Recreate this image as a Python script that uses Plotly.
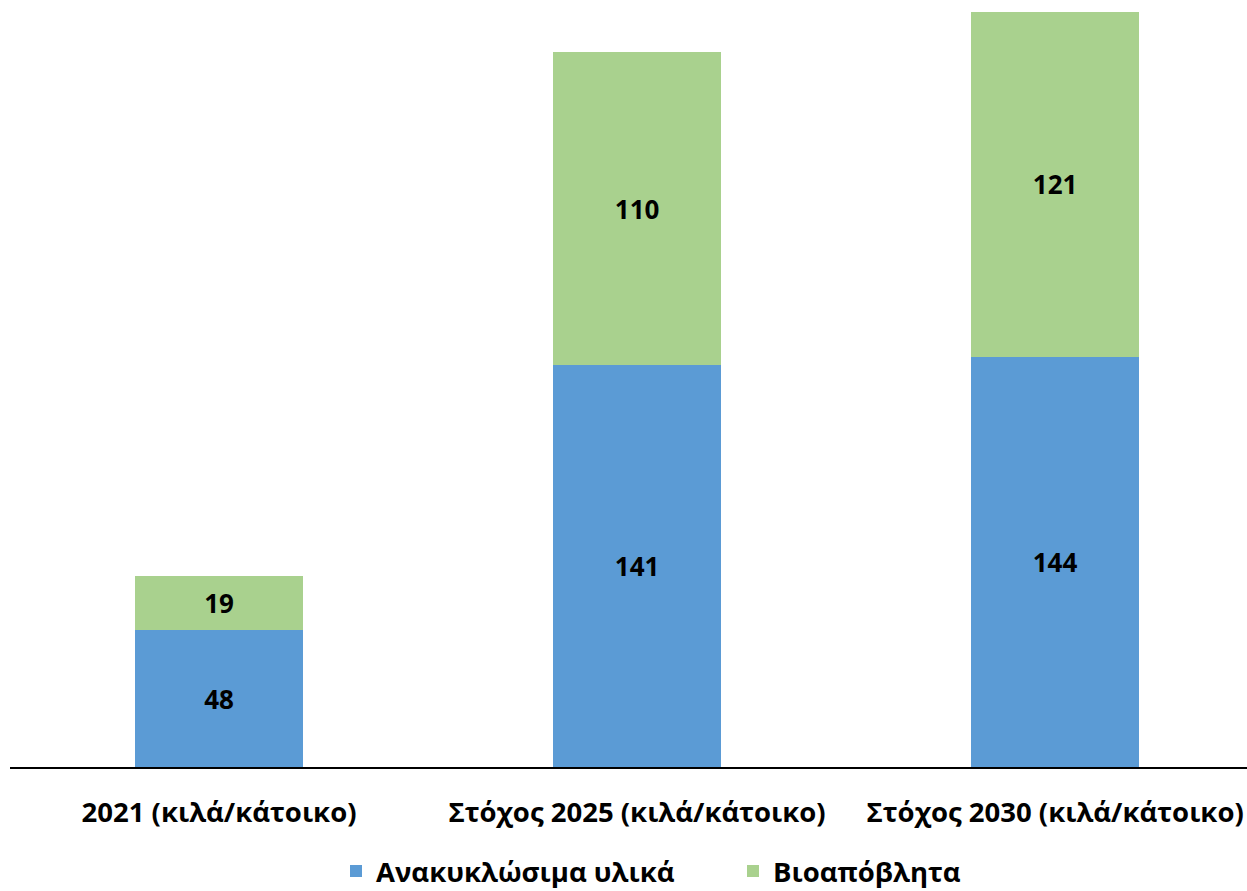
import plotly.graph_objects as go

categories = ["2021 (κιλά/κάτοικο)", "Στόχος 2025 (κιλά/κάτοικο)", "Στόχος 2030 (κιλά/κάτοικο)"]
recyclables = [48, 141, 144]
biowaste = [19, 110, 121]
series_names = ["Ανακυκλώσιμα υλικά", "Βιοαπόβλητα"]

FONT = "Open Sans"
W, H = 1247, 905
L, R, T, B = 10, 0, 12, H - 767
plot_h = H - T - B
plot_w = W - L - R

fig = go.Figure()
fig.add_trace(go.Bar(
    x=categories, y=recyclables, name=series_names[0],
    marker=dict(color="#5B9BD5", line=dict(width=0)),
    text=[str(v) for v in recyclables], textposition="inside",
    insidetextanchor="middle",
    textfont=dict(family=FONT, size=26, color="black", weight="bold"),
    width=0.402,
))
fig.add_trace(go.Bar(
    x=categories, y=biowaste, name=series_names[1],
    marker=dict(color="#A9D18E", line=dict(width=0)),
    text=[str(v) for v in biowaste], textposition="inside",
    insidetextanchor="middle",
    textfont=dict(family=FONT, size=26, color="black", weight="bold"),
    width=0.402,
))

fig.update_layout(
    barmode="stack",
    width=W, height=H,
    margin=dict(l=L, r=R, t=T, b=B, pad=0),
    plot_bgcolor="white", paper_bgcolor="white",
    font=dict(family=FONT, color="black"),
    showlegend=True,
    legend=dict(
        orientation="h", x=(336 - 10) / plot_w, xanchor="left",
        y=-(871 - 767) / plot_h, yanchor="middle",
        font=dict(family=FONT, size=27.5, color="black", weight="bold"),
        itemwidth=30, tracegroupgap=0, entrywidth=352,
        traceorder="normal",
    ),
    xaxis=dict(
        range=[-0.5, 2.459], automargin=False,
        showline=True, linecolor="black", linewidth=1.5,
        showgrid=False, zeroline=False, ticks="",
        tickfont=dict(family=FONT, size=27.5, color="black", weight="bold"),
        ticklabelstandoff=20,
    ),
    yaxis=dict(
        range=[0, 265], visible=False, showgrid=False, zeroline=False,
        automargin=False,
    ),
)

fig.write_html(
    "out.html",
    config={"displayModeBar": False},
    post_script=(
        "document.documentElement.style.overflow='hidden';"
        "document.body.style.margin='0';"
        "document.body.style.overflow='hidden';"
    ),
)
